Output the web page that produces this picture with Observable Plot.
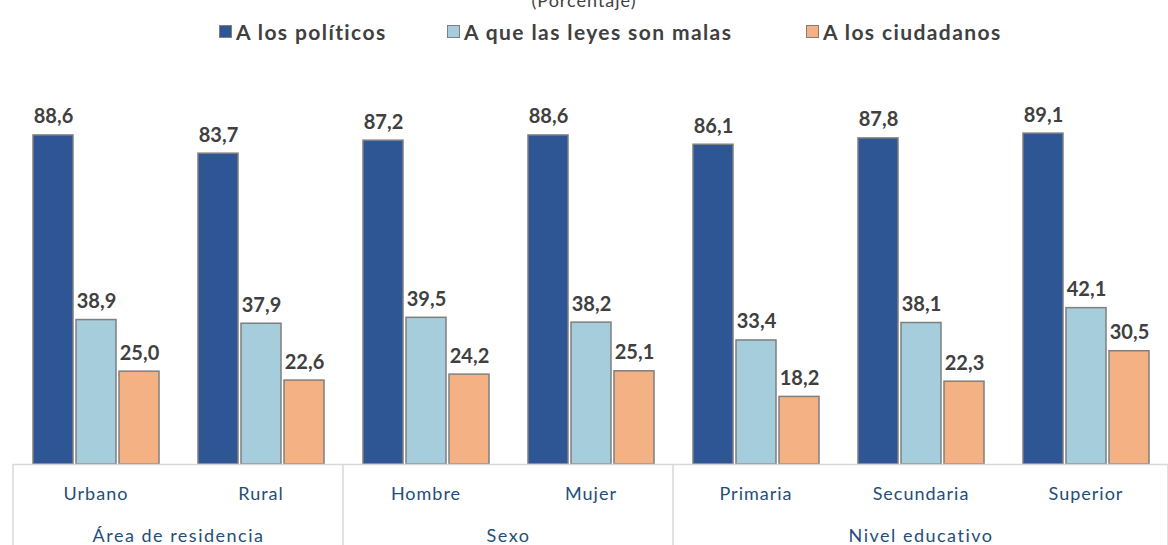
<!DOCTYPE html>
<html><head><meta charset="utf-8">
<script src="https://cdn.jsdelivr.net/npm/d3@7"></script>
<script src="https://cdn.jsdelivr.net/npm/@observablehq/plot@0.6"></script>
<style>
body{margin:0;background:#fff;font-family:Lato,"Open Sans",sans-serif;}
#wrap{width:1168px;height:545px;overflow:hidden;position:relative;}
#head{position:relative;height:60px;}
#sub{position:absolute;top:-11px;left:0;width:1168px;text-align:center;font-size:18px;color:#404040;letter-spacing:1px;}
.li{position:absolute;top:19px;height:24px;display:flex;align-items:center;font-weight:bold;font-size:21px;color:#404040;white-space:nowrap;letter-spacing:1.4px;}
.sw{width:11px;height:11px;border:1.5px solid #7f7f7f;margin-right:4px;}
</style></head>
<body><div id="wrap"><div id="head"><div id="sub"></div></div><div id="chart"></div></div>
<script>
const subtitle = "(Porcentaje)";
const categories = ["Urbano","Rural","Hombre","Mujer","Primaria","Secundaria","Superior"];
const groups = ["Área de residencia","Sexo","Nivel educativo"];
const groupOf = ["Área de residencia","Área de residencia","Sexo","Sexo","Nivel educativo","Nivel educativo","Nivel educativo"];
const seriesNames = ["A los políticos","A que las leyes son malas","A los ciudadanos"];
const politicos = [88.6,83.7,87.2,88.6,86.1,87.8,89.1];
const leyes = [38.9,37.9,39.5,38.2,33.4,38.1,42.1];
const ciudadanos = [25.0,22.6,24.2,25.1,18.2,22.3,30.5];
const colors = ["#2E5594","#A5CDDB","#F4B183"];

document.getElementById("sub").textContent = subtitle;
const head = document.getElementById("head");
const legendLeft = [219,447,806];
seriesNames.forEach((s,i)=>{
  const d=document.createElement("div");d.className="li";d.style.left=legendLeft[i]+"px";
  const sw=document.createElement("div");sw.className="sw";sw.style.background=colors[i];
  d.appendChild(sw);d.appendChild(document.createTextNode(s));head.appendChild(d);
});

const seriesVals=[politicos,leyes,ciudadanos];
const data=[];
categories.forEach((c,ci)=>seriesNames.forEach((s,si)=>data.push({cat:c,series:s,value:seriesVals[si][ci]})));
const fmt = v => v.toFixed(1).replace(".",",");

const groupLabels = [
  {cat:"Urbano",label:groups[0],anchor:"bottom-right"},
  {cat:"Hombre",label:groups[1],anchor:"bottom-right"},
  {cat:"Secundaria",label:groups[2],anchor:"bottom"}
];

const plot = Plot.plot({
  width:1168,height:485,marginLeft:12,marginRight:0,marginTop:20,marginBottom:81,
  style:{fontFamily:"Lato, 'Open Sans', sans-serif",background:"#fff",overflow:"visible"},
  fx:{domain:categories,padding:0,axis:null},
  x:{domain:seriesNames,paddingInner:0.07,paddingOuter:0.45,axis:null},
  y:{domain:[0,103.4],axis:null},
  color:{domain:seriesNames,range:colors},
  marks:[
    Plot.barY(data,{fx:"cat",x:"series",y:"value",fill:"series",stroke:"#7f7f7f",strokeWidth:1.5}),
    Plot.text(data,{fx:"cat",x:"series",y:"value",text:d=>fmt(d.value),lineAnchor:"bottom",dy:-12,fontSize:20,fontWeight:"bold",fill:"#404040"}),
    Plot.ruleY([0],{stroke:"#d9d9d9",strokeWidth:1.5}),
    Plot.text(categories,{fx:d=>d,text:d=>d,frameAnchor:"bottom",dy:30,fontSize:18,fill:"#1F4E79",lineAnchor:"middle"}),
    Plot.text(groupLabels.filter(d=>d.anchor==="bottom-right"),{fx:"cat",text:"label",frameAnchor:"bottom-right",textAnchor:"middle",dy:72,fontSize:18,fill:"#1F4E79",lineAnchor:"middle"}),
    Plot.text(groupLabels.filter(d=>d.anchor==="bottom"),{fx:"cat",text:"label",frameAnchor:"bottom",dy:72,fontSize:18,fill:"#1F4E79",lineAnchor:"middle"})
  ]
});
document.getElementById("chart").appendChild(plot);

const svg = d3.select(plot);
svg.selectAll("text").filter(function(){return categories.includes(this.textContent);}).attr("letter-spacing","1px");
svg.selectAll("text").filter(function(){return groups.includes(this.textContent);}).attr("letter-spacing","1.5px");

const fx = plot.scale("fx");
const starts = groups.map(g=>categories[groupOf.indexOf(g)]);
const baseY = 485-81;
starts.forEach(c=>{
  const x = fx.apply(c);
  svg.append("line").attr("x1",x).attr("x2",x).attr("y1",baseY).attr("y2",485).attr("stroke","#d9d9d9").attr("stroke-width",1.5);
});
const lastX = fx.apply(categories[categories.length-1])+fx.bandwidth;
svg.append("line").attr("x1",lastX).attr("x2",lastX).attr("y1",baseY).attr("y2",485).attr("stroke","#d9d9d9").attr("stroke-width",1.5);
</script></body></html>
